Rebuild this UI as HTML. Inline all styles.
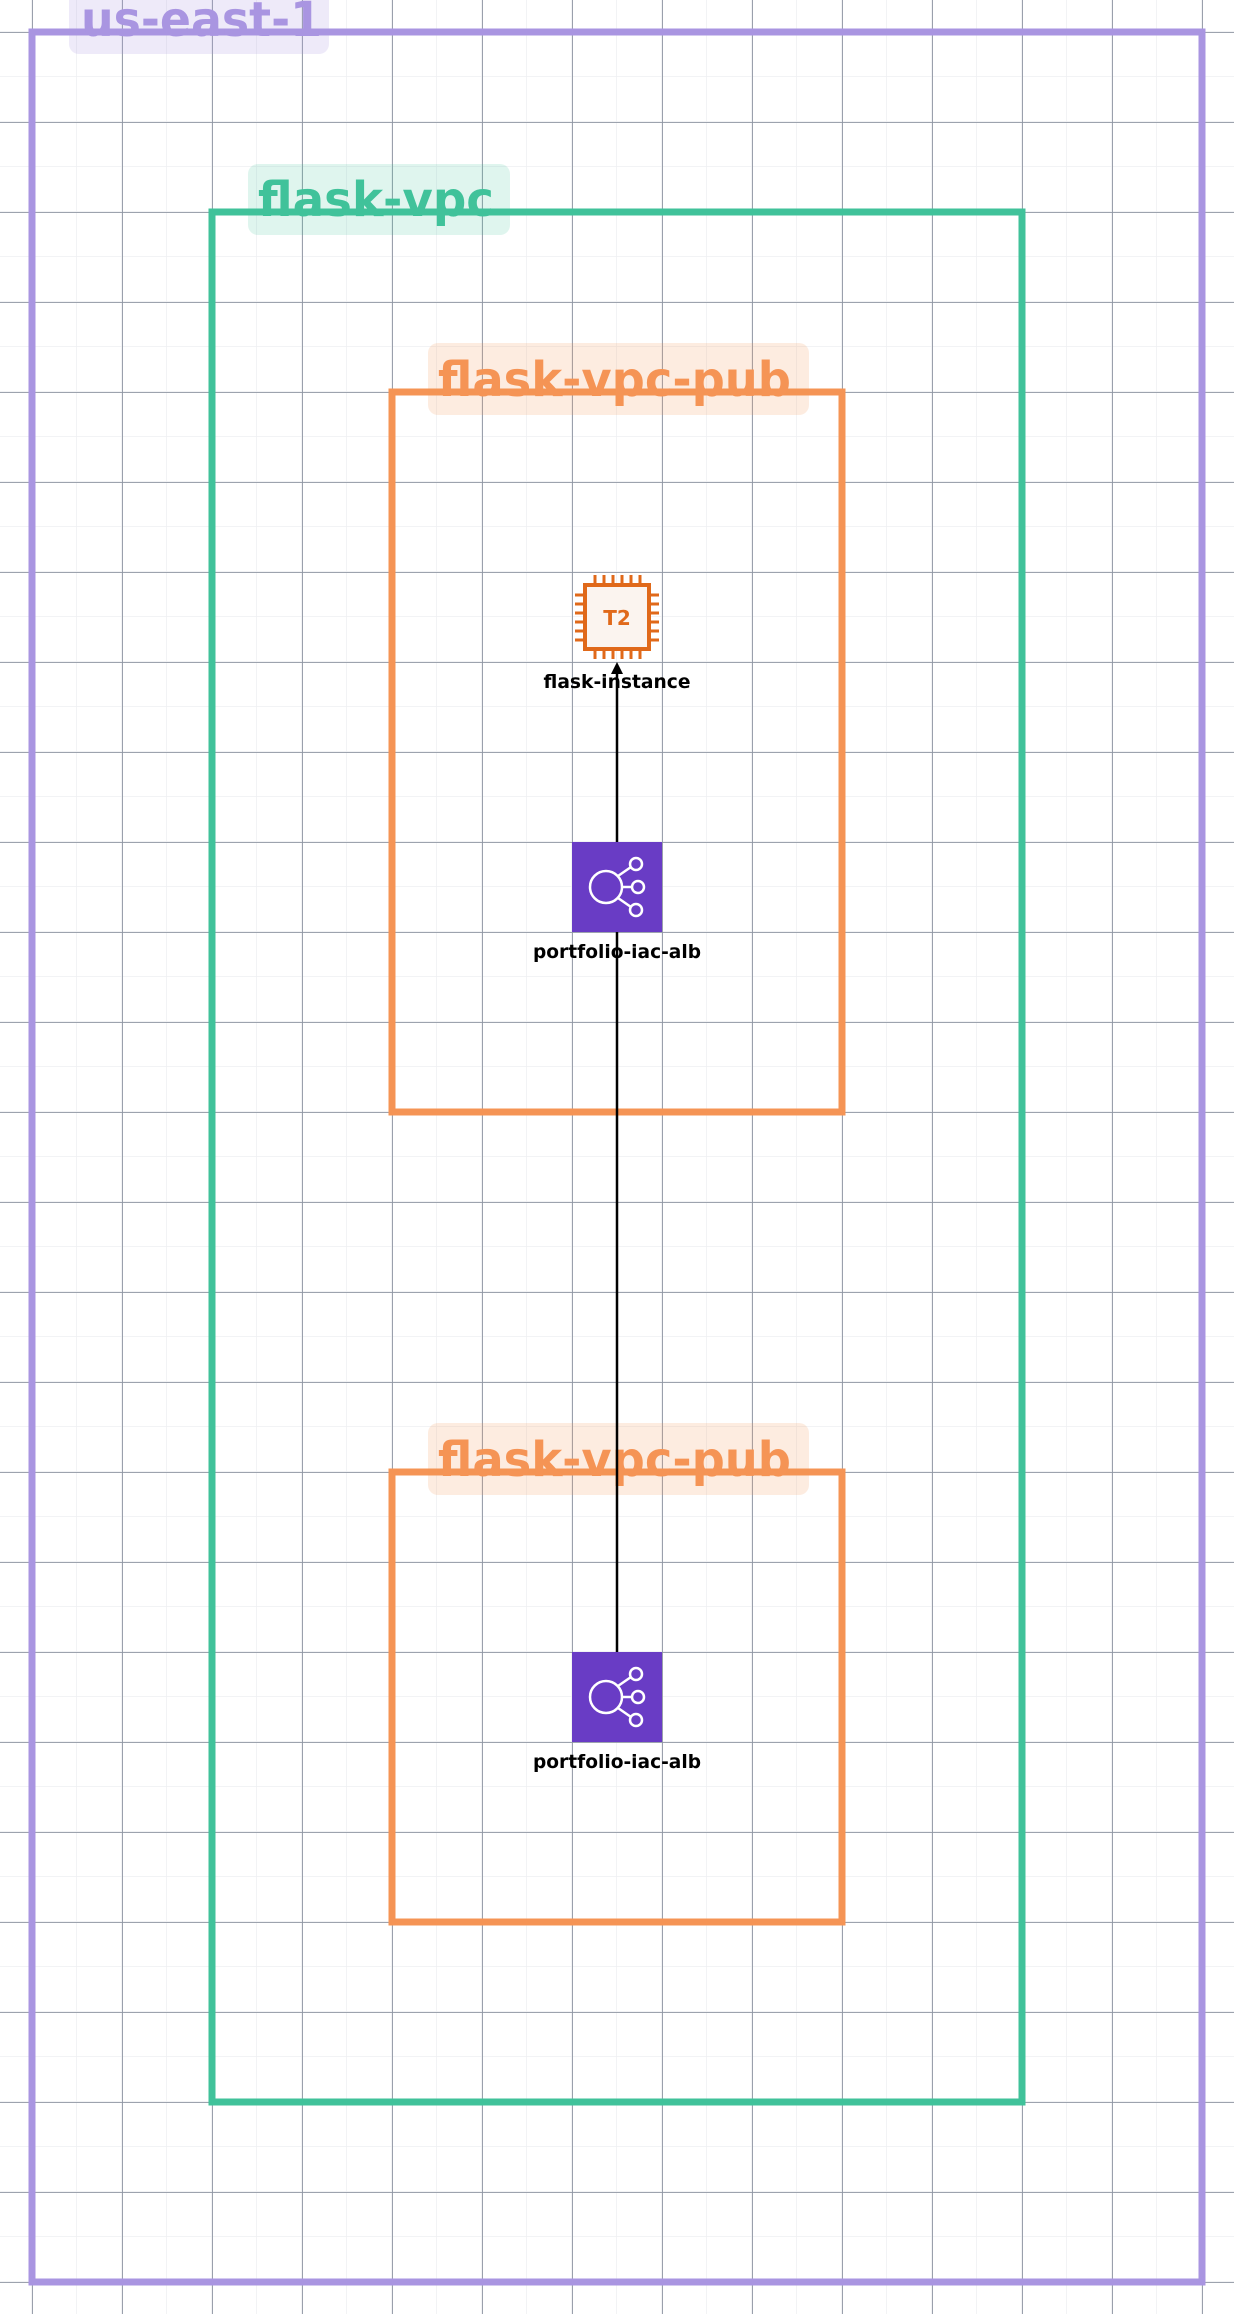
<!DOCTYPE html>
<html><head><meta charset="utf-8"><style>
html,body{margin:0;padding:0;background:#fff;}
svg{display:block;}
text{font-family:"DejaVu Sans","Liberation Sans",sans-serif;font-weight:bold;}
</style></head><body>
<svg width="1234" height="2314" viewBox="0 0 1234 2314" xmlns="http://www.w3.org/2000/svg">
<defs>
<pattern id="minor" x="-13" y="-13" width="45" height="45" patternUnits="userSpaceOnUse">
<path d="M45 0V45M0 45H45" stroke="#eeeff2" stroke-width="1.5" fill="none"/>
</pattern>
<pattern id="major" x="32" y="32" width="90" height="90" patternUnits="userSpaceOnUse">
<path d="M0 0V90M0 0H90" stroke="#8f96a3" stroke-width="1.8" fill="none"/>
</pattern>
</defs>
<rect width="1234" height="2314" fill="url(#minor)"/>
<rect width="1234" height="2314" fill="url(#major)"/>

<!-- us-east-1 -->
<rect x="32" y="32" width="1170" height="2250" fill="none" stroke="#a995e1" stroke-width="7"/>
<rect x="69" y="-10" width="260" height="64" rx="10" fill="#a995e1" fill-opacity="0.2"/>
<text x="81" y="36" font-size="48" fill="#a995e1" textLength="241" lengthAdjust="spacingAndGlyphs">us-east-1</text>

<!-- flask-vpc -->
<rect x="212" y="212" width="810" height="1890" fill="none" stroke="#40c29a" stroke-width="7"/>
<rect x="248" y="164" width="262" height="71" rx="10" fill="#40c29a" fill-opacity="0.17"/>
<text x="258" y="216" font-size="48" fill="#40c29a" textLength="236" lengthAdjust="spacingAndGlyphs">flask-vpc</text>

<!-- pub 1 -->
<rect x="392" y="392" width="450" height="720" fill="none" stroke="#f59455" stroke-width="7"/>
<rect x="428" y="343" width="381" height="72" rx="10" fill="#f59455" fill-opacity="0.18"/>
<text x="438" y="396" font-size="48" fill="#f59455" textLength="353" lengthAdjust="spacingAndGlyphs">flask-vpc-pub</text>

<!-- pub 2 -->
<rect x="392" y="1472" width="450" height="450" fill="none" stroke="#f59455" stroke-width="7"/>
<rect x="428" y="1423" width="381" height="72" rx="10" fill="#f59455" fill-opacity="0.18"/>
<text x="438" y="1476" font-size="48" fill="#f59455" textLength="353" lengthAdjust="spacingAndGlyphs">flask-vpc-pub</text>

<!-- connector -->
<line x1="617" y1="1652" x2="617" y2="672" stroke="#000" stroke-width="2.5"/>
<path d="M611 674 L617 662 L623 674 Z" fill="#000"/>

<!-- EC2 -->
<g transform="translate(573,573)">
<rect x="12" y="12" width="64" height="64" fill="#fbf4ef" stroke="#e0691a" stroke-width="4"/>
<g stroke="#e0691a" stroke-width="3">
<path d="M22 2V12M31 2V12M40 2V12M49 2V12M58 2V12M67 2V12"/>
<path d="M22 76V86M31 76V86M40 76V86M49 76V86M58 76V86M67 76V86"/>
<path d="M2 22H12M2 31H12M2 40H12M2 49H12M2 58H12M2 67H12"/>
<path d="M76 22H86M76 31H86M76 40H86M76 49H86M76 58H86M76 67H86"/>
</g>
<text x="44" y="52" font-size="20" fill="#e0691a" text-anchor="middle">T2</text>
</g>
<text x="617" y="688" font-size="19" fill="#000" text-anchor="middle" textLength="147" lengthAdjust="spacingAndGlyphs">flask-instance</text>

<!-- ALB 1 -->
<g transform="translate(572,842)">
<rect width="90" height="90" fill="#693cc5"/>
<g fill="none" stroke="#fff" stroke-width="2.5">
<circle cx="34" cy="45" r="16"/>
<circle cx="64" cy="22" r="6"/><circle cx="66" cy="45" r="6"/><circle cx="64" cy="68" r="6"/>
<path d="M46 34L59 25M50 45H60M46 56L59 65"/>
</g>
</g>
<text x="617" y="958" font-size="19" fill="#000" text-anchor="middle" textLength="168" lengthAdjust="spacingAndGlyphs">portfolio-iac-alb</text>

<!-- ALB 2 -->
<g transform="translate(572,1652)">
<rect width="90" height="90" fill="#693cc5"/>
<g fill="none" stroke="#fff" stroke-width="2.5">
<circle cx="34" cy="45" r="16"/>
<circle cx="64" cy="22" r="6"/><circle cx="66" cy="45" r="6"/><circle cx="64" cy="68" r="6"/>
<path d="M46 34L59 25M50 45H60M46 56L59 65"/>
</g>
</g>
<text x="617" y="1768" font-size="19" fill="#000" text-anchor="middle" textLength="168" lengthAdjust="spacingAndGlyphs">portfolio-iac-alb</text>
</svg>
</body></html>
